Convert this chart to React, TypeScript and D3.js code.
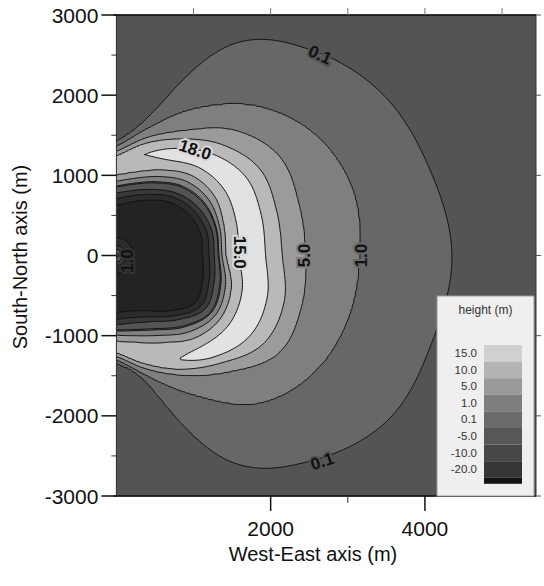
import React, { useMemo } from "react";
import * as d3 from "d3";

// ---------- data ----------
const X_DOMAIN = [0, 5440];
const Y_DOMAIN = [-3000, 3000];
const X_TICKS_MAJOR = [2000, 4000];
const X_TICKS_MINOR = [3000];
const TOP_TICKS = [1000, 2000, 3000, 4000, 5000];
const Y_TICKS = [3000, 2000, 1000, 0, -1000, -2000, -3000];
const Y_TICKS_MINOR = [2500, 1500, 500, -500, -1500, -2500];

const LEVELS = [-20, -10, -5, 0.1, 1, 5, 10, 15];
const BAND_COLORS = ["#232323", "#2c2c2c", "#393939", "#545454", "#676767", "#7f7f7f", "#9b9b9b", "#b9b9b9", "#e2e2e2"];
const LEGEND_LABELS = ["15.0", "10.0", "5.0", "1.0", "0.1", "-5.0", "-10.0", "-20.0"];
const LEGEND_SWATCHES = ["#d0d0d0", "#b4b4b4", "#9a9a9a", "#7e7e7e", "#6b6b6b", "#575757", "#474747", "#353535"];

// radial profile of wave height (m) read along rays from the origin, per direction (deg)
const RAY_ANGLES = [-90, -75, -60, -45, -30, -15, 0, 15, 30, 45, 60, 75, 90];
const R_DARK = [860, 870, 950, 1130, 1330, 1310, 1270, 1275, 1215, 1100, 950, 840, 780];
const R_RISE10 = [1060, 1120, 1250, 1450, 1560, 1540, 1420, 1440, 1470, 1400, 1230, 1080, 1000];
const R_CREST = [1180, 1300, 1500, 1700, 1820, 1820, 1740, 1760, 1760, 1650, 1460, 1300, 1130];
const H_CREST = [11, 13, 14.6, 19, 19.5, 19.5, 19.5, 19.5, 19.5, 19, 18, 14.8, 12];
const R_FALL10 = [1220, 1400, 1640, 1900, 2200, 2250, 2150, 2150, 2150, 1950, 1680, 1450, 1250];
const R_FALL5 = [1260, 1460, 1720, 2050, 2430, 2480, 2450, 2450, 2450, 2200, 1800, 1520, 1300];
const R_FALL1 = [1300, 1550, 2000, 2600, 2940, 3100, 3150, 3170, 2990, 2620, 2120, 1650, 1360];
const R_FALL01 = [1340, 1690, 2970, 3610, 4080, 4230, 4350, 4200, 4000, 3610, 3050, 1850, 1420];
const H_CENTER = 3;
const H_TROUGH = -24;

// contour labels: text, x (m), y (m), rotation (deg)
const CLABEL_TEXT = ["0.1", "18.0", "15.0", "5.0", "1.0", "1.0", "0.1"];
const CLABEL_X = [2640, 1020, 1590, 2436, 3183, 150, 2670];
const CLABEL_Y = [2500, 1316, 40, 0, 0, -70, -2570];
const CLABEL_ROT = [25, 18, 90, -90, -90, -90, -18];
const CLABEL_BG = ["#545454", "#d8d8d8", "#d8d8d8", "#7f7f7f", "#676767", "#333", "#545454"];

// ---------- helpers ----------
function angInterp(arr: number[], th: number) {
  const t = (Math.max(-90, Math.min(90, th)) + 90) / 15;
  let i = Math.floor(t);
  if (i > arr.length - 2) i = arr.length - 2;
  const f = t - i;
  const p0 = arr[Math.max(i - 1, 0)], p1 = arr[i], p2 = arr[i + 1], p3 = arr[Math.min(i + 2, arr.length - 1)];
  const f2 = f * f, f3 = f2 * f;
  return 0.5 * (2 * p1 + (-p0 + p2) * f + (2 * p0 - 5 * p1 + 4 * p2 - p3) * f2 + (-p0 + 3 * p1 - 3 * p2 + p3) * f3);
}

function field(x: number, y: number) {
  const th = (Math.atan2(y, x) * 180) / Math.PI;
  const r = Math.hypot(x, y);
  const rd = angInterp(R_DARK, th);
  const nodesR = [0, 260, rd - 160, rd - 70, rd, angInterp(R_RISE10, th), angInterp(R_CREST, th),
    angInterp(R_FALL10, th), angInterp(R_FALL5, th), angInterp(R_FALL1, th), angInterp(R_FALL01, th)];
  const r01 = nodesR[nodesR.length - 1];
  nodesR.push(r01 + 1500, 1e6);
  const nodesH = [H_CENTER, H_TROUGH, -21, -10, -5, 10, angInterp(H_CREST, th), 10, 5, 1, 0.1, -1, -1];
  for (let k = 0; k < nodesR.length - 1; k++) {
    if (r <= nodesR[k + 1]) {
      const a = nodesR[k], b = nodesR[k + 1];
      const f = b > a ? (r - a) / (b - a) : 0;
      return nodesH[k] + (nodesH[k + 1] - nodesH[k]) * Math.max(0, Math.min(1, f));
    }
  }
  return -1;
}

const FONT = "'Liberation Sans', Arial, Helvetica, sans-serif";

export default function App() {
  const L = 116.4, R = 536, T = 15, B = 496;
  const x = d3.scaleLinear().domain(X_DOMAIN).range([L, R]);
  const y = d3.scaleLinear().domain(Y_DOMAIN).range([B, T]);

  const paths = useMemo(() => {
    const GX0 = -100, GX1 = 5540, GY0 = -3100, GY1 = 3100, STEP = 20;
    const nx = Math.round((GX1 - GX0) / STEP) + 1;
    const ny = Math.round((GY1 - GY0) / STEP) + 1;
    const values = new Float64Array(nx * ny);
    for (let j = 0; j < ny; j++) {
      for (let i = 0; i < nx; i++) {
        values[i + j * nx] = field(GX0 + i * STEP, GY1 - j * STEP);
      }
    }
    const cs = d3.contours().size([nx, ny]).thresholds(LEVELS)(Array.from(values));
    const tr = d3.geoTransform({
      point(px: number, py: number) {
        (this as any).stream.point(x(GX0 + (px - 0.5) * STEP), y(GY1 - (py - 0.5) * STEP));
      },
    });
    const gp = d3.geoPath(tr as any);
    return cs.map((c) => gp(c as any) || "");
  }, []);

  const legX = 437, legY = 296, legW = 97, legH = 200;
  const swX = 484, swW = 38, swY0 = 345, swH = 16.6;

  return (
    <svg width={544} height={586} style={{ position: "absolute", left: 0, top: 0, background: "#fff" }} fontFamily={FONT}>
      <defs>
        <clipPath id="plotclip">
          <rect x={L} y={T} width={R - L} height={B - T} />
        </clipPath>
      </defs>
      <g clipPath="url(#plotclip)">
        <rect x={L} y={T} width={R - L} height={B - T} fill={BAND_COLORS[0]} />
        {paths.map((d, i) => (
          <path key={"f" + i} d={d} fill={BAND_COLORS[i + 1]} stroke="none" />
        ))}
        {paths.map((d, i) => (
          <path key={"s" + i} d={d} fill="none" stroke="#111" strokeWidth={1} strokeLinejoin="round" />
        ))}
        {CLABEL_TEXT.map((t, i) => (
          <text key={"cl" + i} x={x(CLABEL_X[i])} y={y(CLABEL_Y[i])} transform={`rotate(${CLABEL_ROT[i]} ${x(CLABEL_X[i])} ${y(CLABEL_Y[i])})`}
            textAnchor="middle" dominantBaseline="central" fontSize={17} fontWeight="bold" fill="#111"
            stroke={CLABEL_BG[i]} strokeWidth={4} paintOrder="stroke">{t}</text>
        ))}
      </g>
      {/* frame */}
      <rect x={L} y={T} width={R - L} height={B - T} fill="none" stroke="#333" strokeWidth={1} />
      <line x1={L - 3} x2={R} y1={T} y2={T} stroke="#111" strokeWidth={1.5} />
      <line x1={L - 3} x2={R} y1={B} y2={B} stroke="#111" strokeWidth={1.5} />

      {/* legend */}
      <rect x={legX} y={legY} width={legW} height={legH} fill="#efefef" stroke="#999" strokeWidth={1} />
      <text x={legX + legW / 2} y={legY + 18} textAnchor="middle" fontSize={12} fill="#333">height (m)</text>
      {LEGEND_SWATCHES.map((c, i) => (
        <rect key={"sw" + i} x={swX} y={swY0 + i * swH} width={swW} height={swH} fill={c} />
      ))}
      <rect x={swX} y={swY0 + LEGEND_SWATCHES.length * swH} width={swW} height={6} fill="#141414" />
      {LEGEND_LABELS.map((t, i) => (
        <text key={"ll" + i} x={477} y={swY0 + 8 + i * swH} textAnchor="end" dominantBaseline="central" fontSize={11.5} fill="#333">{t}</text>
      ))}

      {/* left axis */}
      {Y_TICKS.map((v) => (
        <g key={"yt" + v}>
          <line x1={L - 15} x2={L} y1={y(v)} y2={y(v)} stroke="#111" strokeWidth={1.5} />
          <text x={L - 18} y={y(v)} textAnchor="end" dominantBaseline="central" fontSize={21} fill="#111">{v}</text>
          <line x1={R} x2={R + 5} y1={y(v)} y2={y(v)} stroke="#555" strokeWidth={1} />
        </g>
      ))}
      {Y_TICKS_MINOR.map((v) => (
        <line key={"ym" + v} x1={L - 5} x2={L} y1={y(v)} y2={y(v)} stroke="#333" strokeWidth={1} />
      ))}
      {/* bottom axis */}
      {X_TICKS_MAJOR.map((v) => (
        <g key={"xt" + v}>
          <line x1={x(v)} x2={x(v)} y1={B} y2={B + 15} stroke="#111" strokeWidth={1.5} />
          <text x={x(v)} y={B + 32} textAnchor="middle" dominantBaseline="central" fontSize={21} fill="#111">{v}</text>
        </g>
      ))}
      {X_TICKS_MINOR.map((v) => (
        <line key={"xm" + v} x1={x(v)} x2={x(v)} y1={B} y2={B + 7} stroke="#333" strokeWidth={1} />
      ))}
      {TOP_TICKS.map((v) => (
        <line key={"tt" + v} x1={x(v)} x2={x(v)} y1={T} y2={T - 7} stroke="#777" strokeWidth={1} />
      ))}

      {/* titles */}
      <text x={313} y={554} textAnchor="middle" dominantBaseline="central" fontSize={20} fill="#111">West-East axis (m)</text>
      <text transform="translate(20,257) rotate(-90)" textAnchor="middle" dominantBaseline="central" fontSize={20} fill="#111">South-North axis (m)</text>
    </svg>
  );
}
